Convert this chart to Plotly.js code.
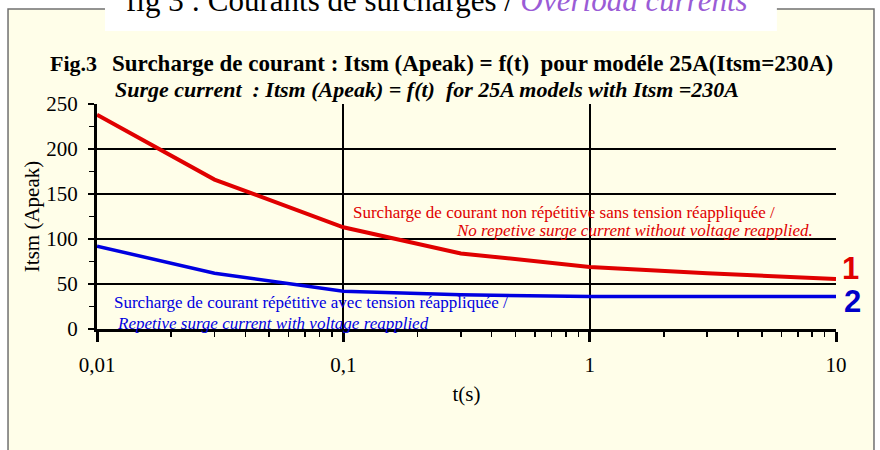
<!DOCTYPE html>
<html>
<head>
<meta charset="utf-8">
<script src="https://cdn.plot.ly/plotly-3.0.1.min.js"></script>
<style>html,body{margin:0;padding:0;background:#fff;}#chart{width:880px;height:450px;}</style>
</head>
<body>
<div id="chart"></div>
<script>
// Data
const tNonRep = [0.01, 0.03, 0.1, 0.3, 1, 3, 10];
const itsmNonRep = [238, 166, 113, 84, 69, 62, 55.5];
const tRep = [0.01, 0.03, 0.1, 0.3, 1, 3, 10];
const itsmRep = [92, 62, 42, 38, 36, 36, 36];

const xTickVals = [0.01, 0.1, 1, 10];
const xTickText = ['0,01', '0,1', '1', '10'];
const xMinorVals = [0.02,0.03,0.04,0.05,0.06,0.07,0.08,0.09,0.2,0.3,0.4,0.5,0.6,0.7,0.8,0.9,2,3,4,5,6,7,8,9];

const serif = 'Liberation Serif, Times New Roman, serif';
const sans = 'Liberation Sans, Arial, sans-serif';
const bg = '#FFFEE9';
const red = '#E00000';
const blue = '#0000E0';

const traces = [
  {x: tNonRep, y: itsmNonRep, type: 'scatter', mode: 'lines', line: {color: red, width: 4}, cliponaxis: false, hoverinfo: 'skip'},
  {x: tRep, y: itsmRep, type: 'scatter', mode: 'lines', line: {color: blue, width: 3.5}, cliponaxis: false, hoverinfo: 'skip'}
];

const layout = {
  width: 880, height: 450,
  margin: {l: 97, r: 44, t: 104, b: 121},
  paper_bgcolor: '#ffffff',
  plot_bgcolor: 'rgba(0,0,0,0)',
  showlegend: false,
  font: {family: serif, color: '#000'},
  xaxis: {
    type: 'log', range: [-2, 1],
    tickmode: 'array', tickvals: xTickVals, ticktext: xTickText,
    ticks: 'outside', ticklen: 10, tickwidth: 3, tickcolor: '#000',
    ticklabelstandoff: 5,
    tickfont: {family: serif, size: 21, color: '#000'},
    showgrid: true, gridcolor: '#000', gridwidth: 2,
    showline: true, linecolor: '#000', linewidth: 3,
    zeroline: false,
    minor: {tickmode: 'array', tickvals: xMinorVals, ticks: 'outside', ticklen: 5, tickwidth: 1.5, tickcolor: '#000', showgrid: false},
    title: {text: 't(s)', font: {family: serif, size: 21, color: '#000'}, standoff: 11}
  },
  yaxis: {
    range: [0, 250], dtick: 50,
    ticks: 'outside', ticklen: 6, tickwidth: 2, tickcolor: '#000',
    ticklabelstandoff: 6,
    tickfont: {family: serif, size: 21, color: '#000'},
    showgrid: true, gridcolor: '#000', gridwidth: 1.5,
    showline: true, linecolor: '#000', linewidth: 3,
    zeroline: false,
    minor: {dtick: 25, ticks: 'outside', ticklen: 5, tickwidth: 1.5, tickcolor: '#000', showgrid: false},
    title: {text: 'Itsm (Apeak)', font: {family: serif, size: 21, color: '#000'}, standoff: 1}
  },
  shapes: [
    {type: 'rect', xref: 'paper', yref: 'paper', layer: 'below',
     x0: -0.1204, x1: 1.0514, y0: 1.4222, y1: -0.6,
     fillcolor: bg, line: {color: '#707070', width: 1.5}},
    {type: 'rect', xref: 'paper', yref: 'paper', layer: 'below',
     x0: 0.0108, x1: 0.920, y0: 1.52, y1: 1.324,
     fillcolor: '#ffffff', line: {width: 0}}
  ],
  annotations: [
    {xref: 'paper', yref: 'paper', x: 0.46, y: 1.372, xanchor: 'center', yanchor: 'bottom', showarrow: false,
     text: 'fig 3 : Courants de surcharges / <i><span style="color:#9A5CD6">Overload currents</span></i>',
     font: {family: serif, size: 31, color: '#000'}},
    {xref: 'paper', yref: 'paper', x: -0.066, y: 1.178, xanchor: 'left', yanchor: 'middle', showarrow: false,
     text: '<b>Fig.3</b>', font: {family: serif, size: 22, color: '#000'}},
    {xref: 'paper', yref: 'paper', x: 0.018, y: 1.178, xanchor: 'left', yanchor: 'middle', showarrow: false,
     text: '<b>Surcharge de courant : Itsm (Apeak) = f(t)  pour modéle 25A(Itsm=230A)</b>', font: {family: serif, size: 23, color: '#000'}},
    {xref: 'paper', yref: 'paper', x: 0.022, y: 1.066, xanchor: 'left', yanchor: 'middle', showarrow: false,
     text: '<b><i>Surge current  : Itsm (Apeak) = f(t)  for 25A models with Itsm =230A</i></b>', font: {family: serif, size: 22, color: '#000'}},
    {xref: 'paper', yref: 'paper', x: 0.344, y: 0.52, xanchor: 'left', yanchor: 'middle', showarrow: false,
     text: 'Surcharge de courant non répétitive sans tension réappliquée /', font: {family: serif, size: 17, color: red}},
    {xref: 'paper', yref: 'paper', x: 0.972, y: 0.436, xanchor: 'right', yanchor: 'middle', showarrow: false,
     text: '<i>No repetive surge current without voltage reapplied.</i>', font: {family: serif, size: 17, color: red}},
    {xref: 'paper', yref: 'paper', x: 0.020, y: 0.116, xanchor: 'left', yanchor: 'middle', showarrow: false,
     text: 'Surcharge de courant répétitive avec tension réappliquée /', font: {family: serif, size: 17, color: blue}},
    {xref: 'paper', yref: 'paper', x: 0.024, y: 0.026, xanchor: 'left', yanchor: 'middle', showarrow: false,
     text: '<i>Repetive surge current with voltage reapplied</i>', font: {family: serif, size: 17, color: blue}},
    {xref: 'paper', yref: 'paper', x: 1.019, y: 0.267, xanchor: 'center', yanchor: 'middle', showarrow: false,
     text: '<b>1</b>', font: {family: sans, size: 31, color: red}},
    {xref: 'paper', yref: 'paper', x: 1.023, y: 0.124, xanchor: 'center', yanchor: 'middle', showarrow: false,
     text: '<b>2</b>', font: {family: sans, size: 31, color: '#0000C8'}}
  ]
};

Plotly.newPlot('chart', traces, layout, {staticPlot: true, displayModeBar: false});
</script>
</body>
</html>
